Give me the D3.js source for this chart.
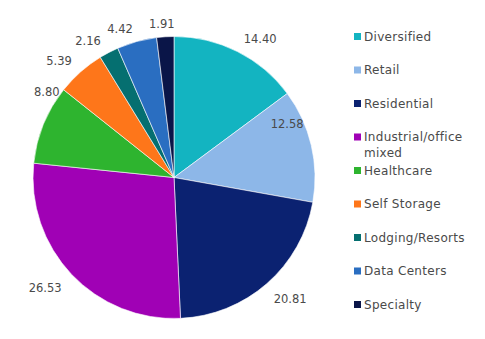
<!DOCTYPE html>
<html><head><meta charset="utf-8">
<script src="https://cdn.jsdelivr.net/npm/d3@7"></script>
<style>body{margin:0;background:#fff}svg{display:block}text{font-family:"DejaVu Sans",sans-serif;fill:#4a4a4a}</style>
</head><body><svg id="c" width="485" height="339"></svg>
<script>
const categories = ["Diversified","Retail","Residential","Industrial/office mixed","Healthcare","Self Storage","Lodging/Resorts","Data Centers","Specialty"];
const values = [14.40,12.58,20.81,26.53,8.80,5.39,2.16,4.42,1.91];
const valueLabels = ["14.40","12.58","20.81","26.53","8.80","5.39","2.16","4.42","1.91"];
const colors = ["#13B4C1","#8DB7E8","#0B2271","#A001B5","#2EB42F","#FE761A","#056F70","#2A6EC1","#0A1548"];
// label placement tweaks (angle offset in degrees, radius)
const labelAngleOffset = [5.2,-11.9,-2.5,2.7,11.6,-3,-4.8,-4.7,-1];
const labelRadius = [163,125,168,170,153,164,161,158,154];

const svg = d3.select("#c");
const cx = 174, cy = 177.5, r = 141;
const g = svg.append("g").attr("transform",`translate(${cx},${cy})`);
const pie = d3.pie().sort(null).value(d=>d)(values);
const arc = d3.arc().innerRadius(0).outerRadius(r);
g.selectAll("path").data(pie).join("path")
  .attr("d",arc).attr("fill",(d,i)=>colors[i])
  .attr("stroke","#fff").attr("stroke-width",0.6);
g.selectAll("text.lbl").data(pie).join("text").attr("class","lbl")
  .attr("text-anchor","middle").attr("dominant-baseline","central")
  .style("font-size","11.5px")
  .attr("x",(d,i)=>{const a=(d.startAngle+d.endAngle)/2+labelAngleOffset[i]*Math.PI/180;return labelRadius[i]*Math.sin(a);})
  .attr("y",(d,i)=>{const a=(d.startAngle+d.endAngle)/2+labelAngleOffset[i]*Math.PI/180;return -labelRadius[i]*Math.cos(a);})
  .text((d,i)=>valueLabels[i]);

const leg = svg.append("g");
const ly = d3.scaleLinear().domain([0,categories.length-1]).range([36.5,304.5]);
categories.forEach((c,i)=>{
  const y = ly(i);
  leg.append("rect").attr("x",354).attr("y",y-3.5).attr("width",7).attr("height",7).attr("fill",colors[i]);
  const words = c==="Industrial/office mixed" ? ["Industrial/office","mixed"] : [c];
  words.forEach((w,j)=>{
    leg.append("text").attr("x",364).attr("y",y+j*16).attr("dominant-baseline","central")
      .style("font-size","12px").style("letter-spacing","0.3px").text(w);
  });
});
</script></body></html>
